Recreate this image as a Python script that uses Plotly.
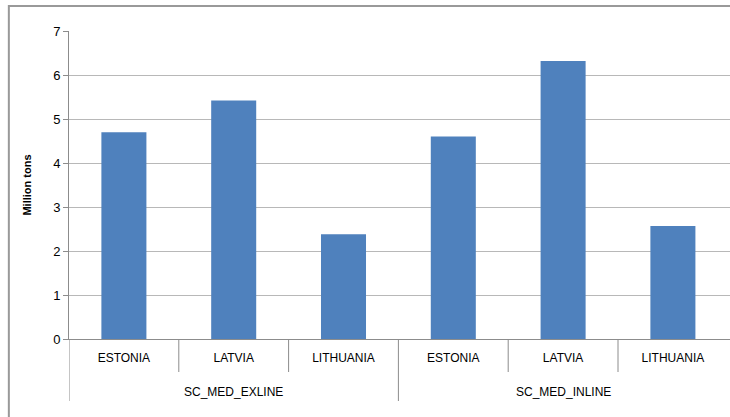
import plotly.graph_objects as go

group_names = ["SC_MED_EXLINE", "SC_MED_INLINE"]
countries = ["ESTONIA", "LATVIA", "LITHUANIA", "ESTONIA", "LATVIA", "LITHUANIA"]
values = [4.7, 5.42, 2.38, 4.6, 6.32, 2.57]

n_per_group = 3
keys = [f"{group_names[i // n_per_group]}|{c}" for i, c in enumerate(countries)]

fig = go.Figure()
fig.add_trace(go.Bar(
    x=keys,
    y=values,
    marker=dict(color="#4F81BD", line=dict(width=0)),
))

plot_h = 417 - 31 - 78
line_col = "#8c8c8c"
shapes = [dict(type="rect", xref="paper", yref="paper",
               x0=-0.091, x1=1.2, y0=-0.3, y1=1.081,
               line=dict(color="#999999", width=2), layer="below")]
# category boundaries: short between countries, long between groups
for i in range(len(keys)):
    is_group = (i % n_per_group == 0)
    depth = 62 if is_group else 33
    shapes.append(dict(type="line", xref="x", yref="paper",
                       x0=i - 0.5, x1=i - 0.5, y0=0, y1=-depth / plot_h,
                       line=dict(color=line_col, width=1)))

annotations = []
for g, name in enumerate(group_names):
    annotations.append(dict(xref="x", yref="paper", x=g * n_per_group + (n_per_group - 1) / 2,
                            y=-53 / plot_h, text=name, showarrow=False,
                            font=dict(size=12, color="black"), yanchor="middle"))

fig.update_layout(
    width=730, height=417,
    margin=dict(l=69, r=0, t=31, b=78),
    paper_bgcolor="white", plot_bgcolor="white",
    bargap=0.59,
    showlegend=False,
    font=dict(family="Liberation Sans, Arial, sans-serif", color="black"),
    shapes=shapes,
    annotations=annotations,
)
fig.update_xaxes(
    type="category",
    tickvals=keys, ticktext=countries,
    showline=True, linecolor=line_col, linewidth=1,
    ticks="", ticklabelstandoff=8,
    tickfont=dict(size=12),
    showgrid=False,
    range=[-0.5, len(keys) - 0.5 + 0.02],
)
fig.update_yaxes(
    range=[0, 7], dtick=1,
    showline=True, linecolor=line_col, linewidth=1,
    ticks="outside", ticklen=5, tickcolor=line_col,
    showgrid=True, gridcolor="#b8b8b8", gridwidth=1,
    tickfont=dict(size=13),
    title=dict(text="<b>Million tons</b>", font=dict(size=11), standoff=19),
    zeroline=False,
)

fig.write_html("out.html")
